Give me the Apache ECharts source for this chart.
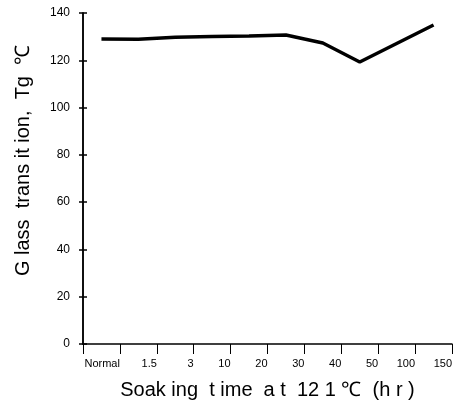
<!DOCTYPE html>
<html>
<head>
<meta charset="utf-8">
<script src="https://cdn.jsdelivr.net/npm/echarts@6/dist/echarts.min.js"></script>
<style>
  html, body { margin: 0; padding: 0; background: #fff; }
  #chart { width: 458px; height: 405px; }
</style>
</head>
<body>
<div id="chart"></div>
<script>
// soaking time categories (x) and measured Tg values (y)
const soakTimes = ['Normal', '1.5', '3', '10', '20', '30', '40', '50', '100', '150'];
const tgValues = [129.0, 128.9, 129.7, 130.1, 130.3, 130.7, 127.3, 119.3, 127.1, 134.9];
const yTicks = [0, 20, 40, 60, 80, 100, 120, 140];

const font = '"Liberation Sans", Arial, sans-serif';

// each category sits in the middle of its band, label hangs off the band's right tick
const points = tgValues.map((v, i) => [i + 0.5, v]);

const chart = echarts.init(document.getElementById('chart'));

chart.setOption({
  animation: false,
  backgroundColor: '#fff',
  grid: { left: 83, right: 6, top: 13, bottom: 61 },
  xAxis: {
    type: 'value',
    min: 0,
    max: soakTimes.length,
    interval: 1,
    name: 'Soak ing  t ime  a t  12 1 ℃  (h r )',
    nameLocation: 'middle',
    nameGap: 36,
    nameTextStyle: { fontFamily: font, fontSize: 20, color: '#000' },
    splitLine: { show: false },
    axisLine: { lineStyle: { color: '#000', width: 1.5 } },
    axisTick: { length: 10, lineStyle: { color: '#000', width: 1 } },
    axisLabel: {
      align: 'right',
      margin: 14,
      fontFamily: font,
      fontSize: 11,
      color: '#000',
      formatter: v => (v >= 1 ? soakTimes[v - 1] : '')
    }
  },
  yAxis: [
    {
      type: 'value',
      min: yTicks[0],
      max: yTicks[yTicks.length - 1],
      interval: 20,
      name: 'G lass  trans it ion,  Tg  ℃',
      nameLocation: 'middle',
      nameGap: 50,
      nameTextStyle: { fontFamily: font, fontSize: 20, color: '#000', padding: [0, 0, 0, 36] },
      splitLine: { show: false },
      axisLine: { show: true, lineStyle: { color: '#000', width: 1.5 } },
      axisTick: { show: true, length: 4, lineStyle: { color: '#000', width: 1.5 } },
      axisLabel: { margin: 13, fontFamily: font, fontSize: 12, color: '#000' }
    },
    {
      // same scale again, only for the inner half of the crossing ticks
      type: 'value',
      position: 'left',
      min: yTicks[0],
      max: yTicks[yTicks.length - 1],
      interval: 20,
      splitLine: { show: false },
      axisLine: { show: true, lineStyle: { color: '#000', width: 1.5 } },
      axisTick: { show: true, inside: true, length: 4, lineStyle: { color: '#000', width: 1.5 } },
      axisLabel: { show: false }
    }
  ],
  series: [
    {
      type: 'line',
      yAxisIndex: 0,
      data: points,
      showSymbol: false,
      lineStyle: { color: '#000', width: 3.5 }
    }
  ]
});
</script>
</body>
</html>
